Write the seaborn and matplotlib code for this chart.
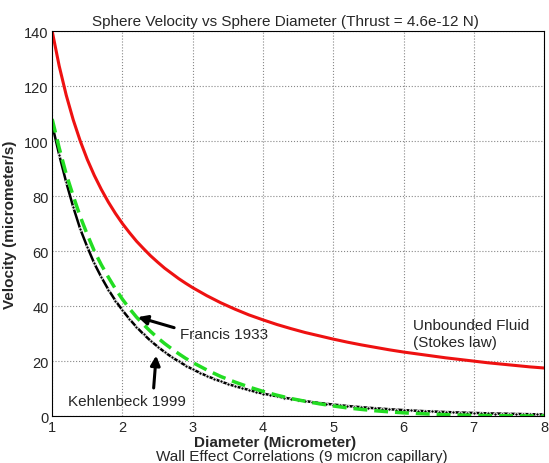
# Sphere velocity vs sphere diameter - wall effect correlations
import numpy as np
import pandas as pd
import matplotlib
matplotlib.use("Agg")
import matplotlib.pyplot as plt
import seaborn as sns

# Stokes law (unbounded fluid) and Francis 1933, same diameters
d_curve = [1.0, 1.1, 1.2, 1.3, 1.4, 1.5, 1.6, 1.7, 1.8, 1.9,
           2.0, 2.1, 2.2, 2.3, 2.4, 2.5, 2.6, 2.7, 2.8, 2.9,
           3.0, 3.2, 3.4, 3.6, 3.8, 4.0, 4.2, 4.4, 4.6, 4.8,
           5.0, 5.2, 5.4, 5.6, 5.8, 6.0, 6.2, 6.4, 6.6, 6.8,
           7.0, 7.2, 7.4, 7.6, 7.8, 8.0]
v_stokes = [140, 127.3, 116.7, 107.7, 100, 93.3, 87.5, 82.4, 77.8, 73.7,
            70, 66.7, 63.6, 60.9, 58.3, 56, 53.8, 51.9, 50, 48.3,
            46.7, 43.8, 41.2, 38.9, 36.8, 35, 33.3, 31.8, 30.4, 29.2,
            28, 26.9, 25.9, 25, 24.1, 23.3, 22.6, 21.9, 21.2, 20.6,
            20, 19.4, 18.9, 18.4, 17.9, 17.5]
v_francis = [108, 97.5, 88, 80, 72.5, 66, 60, 55, 50.5, 46.3,
             42.5, 39.1, 36, 33.3, 30.8, 28.5, 26.4, 24.5, 22.7, 21.0,
             19.5, 16.8, 14.4, 12.4, 10.6, 9.0, 7.6, 6.4, 5.4, 4.5,
             3.7, 3.0, 2.45, 1.95, 1.55, 1.2, 0.95, 0.72, 0.55, 0.4,
             0.3, 0.22, 0.15, 0.1, 0.06, 0.03]

# Kehlenbeck 1999, read every 0.1 micrometer
d_kehl = [1.0, 1.1, 1.2, 1.3, 1.4, 1.5, 1.6, 1.7, 1.8, 1.9,
          2.0, 2.1, 2.2, 2.3, 2.4, 2.5, 2.6, 2.7, 2.8, 2.9,
          3.0, 3.1, 3.2, 3.3, 3.4, 3.5, 3.6, 3.7, 3.8, 3.9,
          4.0, 4.1, 4.2, 4.3, 4.4, 4.5, 4.6, 4.7, 4.8, 4.9,
          5.0, 5.1, 5.2, 5.3, 5.4, 5.5, 5.6, 5.7, 5.8, 5.9,
          6.0, 6.1, 6.2, 6.3, 6.4, 6.5, 6.6, 6.7, 6.8, 6.9,
          7.0, 7.1, 7.2, 7.3, 7.4, 7.5, 7.6, 7.7, 7.8, 7.9, 8.0]
v_kehl = [106, 95, 85, 76, 68, 61.5, 55.5, 50.5, 46, 42,
          38.5, 35.3, 32.4, 29.8, 27.4, 25.3, 23.3, 21.5, 19.9, 18.4,
          17.0, 15.8, 14.6, 13.6, 12.6, 11.7, 10.9, 10.2, 9.5, 8.8,
          8.2, 7.7, 7.2, 6.7, 6.3, 5.9, 5.5, 5.1, 4.8, 4.5,
          4.2, 3.95, 3.7, 3.45, 3.25, 3.05, 2.85, 2.7, 2.5, 2.35,
          2.2, 2.05, 1.95, 1.8, 1.7, 1.6, 1.5, 1.4, 1.3, 1.25,
          1.15, 1.1, 1.0, 0.95, 0.9, 0.85, 0.8, 0.75, 0.7, 0.65, 0.6]

stokes = pd.DataFrame({"d": d_curve, "v": v_stokes})
francis = pd.DataFrame({"d": d_curve, "v": v_francis})
kehl = pd.DataFrame({"d": d_kehl, "v": v_kehl})

sns.set_style("white")
plt.rcParams["font.family"] = ["Liberation Sans", "DejaVu Sans"]

fig = plt.figure(figsize=(5.49, 4.64), dpi=100)
ax = fig.add_axes([0.095, 0.101, 0.896, 0.830])

sns.lineplot(data=stokes, x="d", y="v", color="#ee1111", linewidth=2.2, ax=ax)
sns.lineplot(data=kehl, x="d", y="v", color="black", linewidth=1.8,
             marker="o", markersize=2.5, ax=ax)
sns.lineplot(data=francis, x="d", y="v", color="#22dd22", linewidth=2.5,
             linestyle=(0, (4, 2)), ax=ax)

ax.set_xlim(1, 8)
ax.set_ylim(0, 140)
ax.set_xticks(range(1, 9))
ax.set_yticks(range(0, 141, 20))
ax.grid(True, linestyle=":", color="#888888", linewidth=0.8)
ax.tick_params(direction="in", length=3, labelsize=10.5)
ax.tick_params(axis="x", pad=2.5)
ax.tick_params(axis="y", pad=2.5)
for s in ax.spines.values():
    s.set_color("black")
    s.set_linewidth(0.8)

ax.set_title("Sphere Velocity vs Sphere Diameter (Thrust = 4.6e-12 N)",
             fontsize=11, pad=4, x=0.474)
ax.set_xlabel("Diameter (Micrometer)", fontsize=11, fontweight="bold")
ax.xaxis.set_label_coords(0.453, -0.049)
ax.set_ylabel("Velocity (micrometer/s)", fontsize=11, fontweight="bold")
ax.yaxis.set_label_coords(-0.072, 0.5)
fig.text(0.550, 0.015, "Wall Effect Correlations (9 micron capillary)",
         ha="center", va="center", fontsize=11)

arrow = dict(arrowstyle="-|>", color="black", lw=2.2, mutation_scale=14)
ax.annotate("Francis 1933", xy=(2.22, 36), xytext=(2.82, 30), fontsize=11,
            va="center", arrowprops=dict(arrow, shrinkA=2, shrinkB=0, relpos=(0, 0.8)))
ax.annotate("Kehlenbeck 1999", xy=(2.48, 22), xytext=(1.23, 5.5), fontsize=11,
            va="center", arrowprops=dict(arrow, shrinkA=2, shrinkB=0, relpos=(0.72, 1.0)))
ax.text(6.13, 30, "Unbounded Fluid\n(Stokes law)", fontsize=11, va="center", linespacing=1.3)

fig.savefig("out.png", dpi=100)
